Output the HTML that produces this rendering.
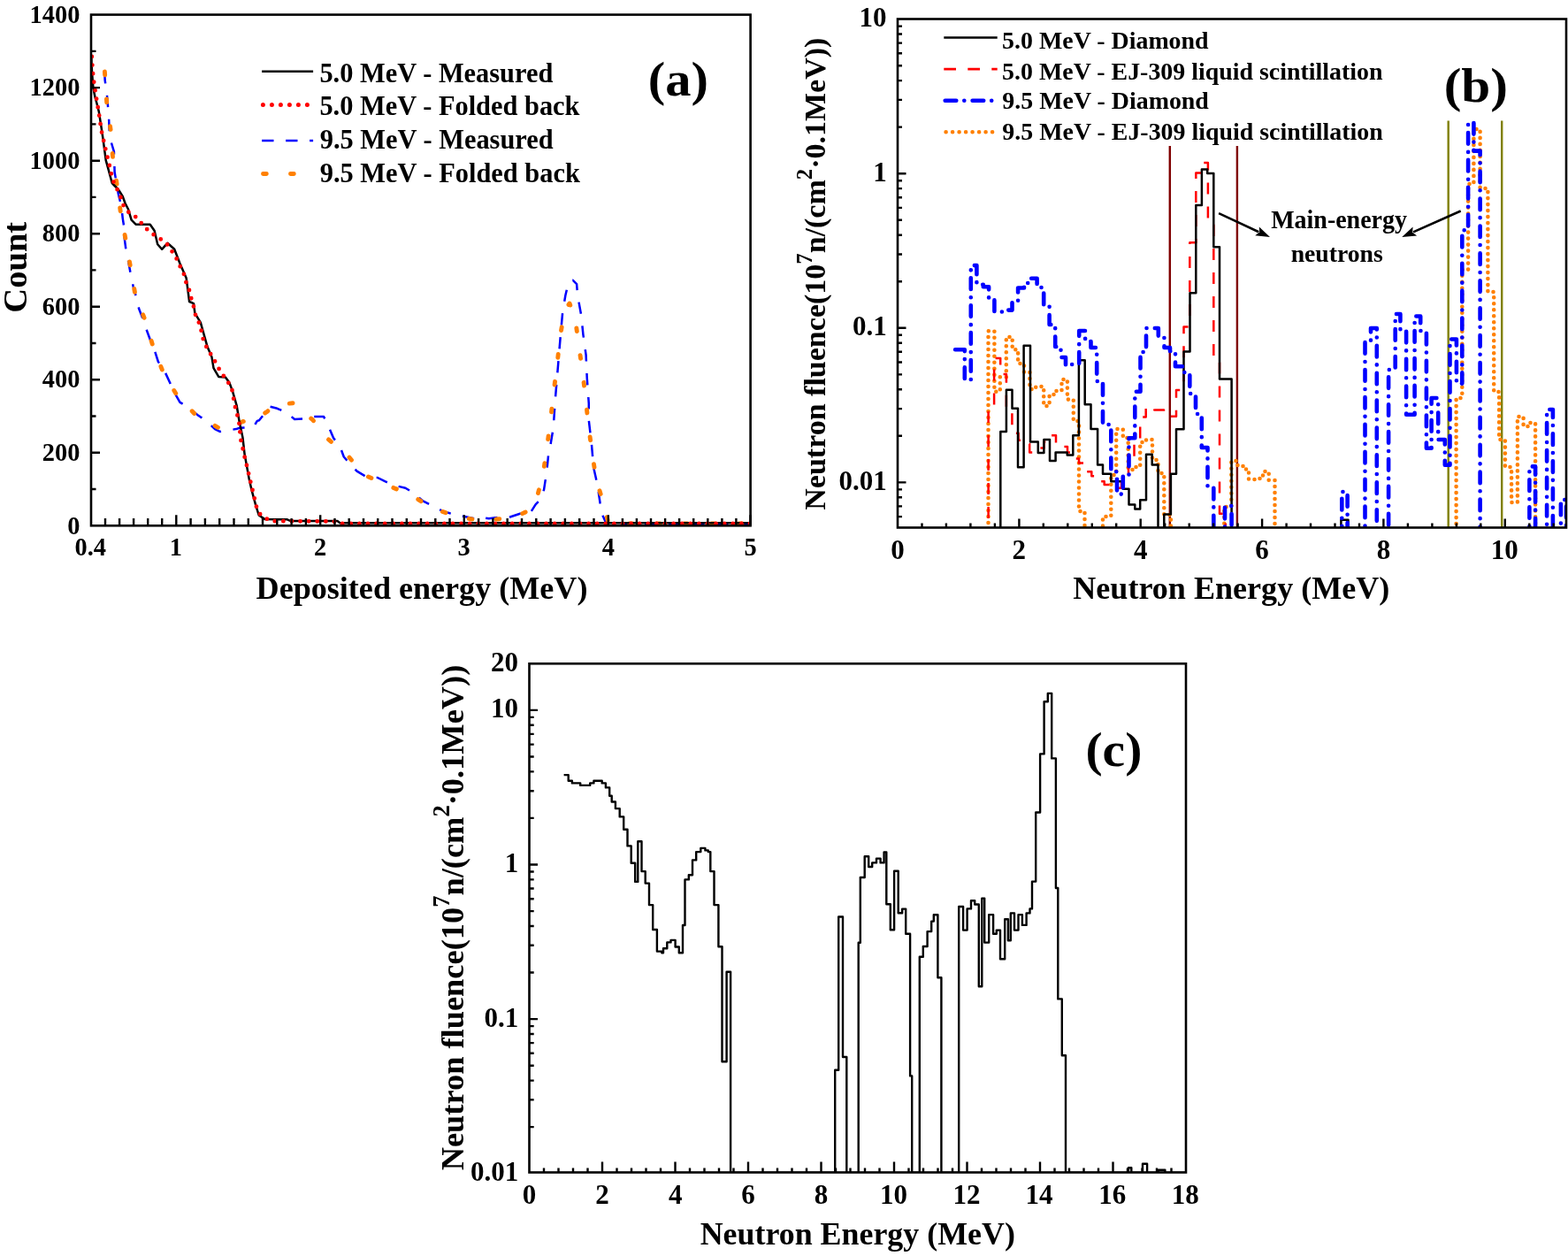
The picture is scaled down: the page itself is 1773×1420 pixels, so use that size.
<!DOCTYPE html><html><head><meta charset="utf-8"><style>html,body{margin:0;padding:0;background:#fff;overflow:hidden}svg{display:block}</style></head><body>
<svg width="1773" height="1420" viewBox="0 0 1773 1420" font-family="Liberation Serif, Times New Roman, serif" font-weight="bold">
<rect width="1773" height="1420" fill="#fff"/>
<defs><clipPath id="cb"><rect x="1015.0" y="21.5" width="756.0" height="575.0"/></clipPath><clipPath id="cc"><rect x="598.5" y="750.3" width="742.5" height="575.2"/></clipPath><clipPath id="ca"><rect x="103.0" y="16.6" width="745.6" height="577.6999999999999"/></clipPath></defs>
<path d="M118.4 81.0L118.6 90.0L121.0 108.0L123.0 132.0L123.8 150.0L124.9 158.0L128.9 171.3L129.6 194.5L133.8 219.2L137.3 233.2L138.7 246.6L140.8 260.0L140.8 269.9L143.0 286.8L145.1 295.2L147.9 310.7L150.7 324.1L153.5 334.0L157.0 348.7L163.4 365.4L165.5 372.4L169.7 383.7L174.6 395.6L178.9 409.0L184.5 416.1L192.3 433.0L195.1 440.0L203.5 454.8L212.0 459.7L223.2 468.9L233.1 475.9L243.0 485.1L248.6 487.9L266.9 485.1L271.1 483.7L286.6 483.0L290.8 475.9L293.0 475.2L305.6 459.7L313.4 461.8L324.3 466.7L333.1 474.0L346.3 473.3L352.1 471.1L366.1 471.1L371.2 481.3L377.1 495.3L384.4 504.8L388.8 516.5L395.4 523.9L403.5 532.7L415.9 540.0L426.9 540.0L435.7 544.4L448.9 549.5L458.4 551.7L468.0 557.6L478.2 566.4L491.4 573.0L501.0 578.1L516.4 582.5L525.3 584.0L540.1 587.2L545.4 585.1L552.8 586.2L565.5 584.7L576.0 584.7L588.7 580.5L599.3 580.5L605.6 570.3L611.9 564.0L615.1 553.4L618.3 532.3L620.4 511.2L622.5 502.7L625.7 483.7L627.8 452.1L629.9 426.7L632.0 401.4L634.1 376.0L636.2 352.8L639.4 333.8L642.6 320.1L647.8 316.9L652.1 321.1L653.1 333.8L657.3 357.0L659.4 378.1L662.6 401.4L663.7 426.7L665.8 456.3L665.8 475.3L669.0 502.7L671.1 528.1L675.3 547.1L678.5 568.2L681.6 583.0L685.8 592.6L690.0 592.5L848.0 592.5" fill="none" stroke="#0000ff" stroke-width="2.5" stroke-linejoin="round" stroke-linecap="butt" stroke-dasharray="13.4 13.6" clip-path="url(#ca)"/>
<path d="M118.4 81.0L120.7 116.0L125.1 146.8L127.5 177.6L132.1 207.9L136.3 239.6L142.3 272.0L147.6 302.3L152.8 332.5L163.1 359.3L173.2 392.1L184.5 421.0L199.3 445.6L219.7 467.5L250.0 485.4L275.9 476.2L286.0 476.0L302.3 465.2L310.0 458.0L331.6 455.7L353.6 474.7L371.2 496.7L393.2 515.1L412.2 537.1L438.6 548.8L465.0 559.8L488.5 574.5L519.3 584.7L540.0 588.0L580.0 586.0L600.0 576.0L605.6 568.2L614.0 536.5L618.3 507.0L622.5 475.3L625.7 445.7L629.9 413.0L633.1 382.4L638.3 350.7L644.0 343.0L650.0 357.0L654.2 388.7L658.4 418.3L662.2 450.0L665.4 481.6L669.6 512.2L674.2 542.9L683.3 571.4L688.0 592.0L848.0 592.0" fill="none" stroke="#ff8000" stroke-width="4.9" stroke-linejoin="round" stroke-linecap="round" stroke-dasharray="3.8 27.2" clip-path="url(#ca)"/>
<path d="M103.3 62.0L103.5 72.0L104.2 84.0L105.5 99.9L107.4 109.3L109.5 117.0L111.8 126.1L114.8 145.5L116.5 157.0L119.7 181.1L123.2 193.8L126.8 207.2L129.6 210.0L133.8 214.2L138.7 222.0L141.5 229.7L145.1 236.8L148.6 248.7L153.5 253.7L169.7 253.7L174.6 260.7L178.2 276.2L183.1 281.8L189.4 274.8L197.2 281.8L203.5 298.0L210.6 314.2L214.1 341.0L219.0 343.1L220.4 354.1L226.8 364.6L234.5 392.1L239.4 403.4L241.5 416.1L247.2 425.9L254.9 426.6L259.2 432.3L262.7 441.4L267.6 458.3L270.4 475.2L274.4 494.5L276.6 513.6L281.7 541.5L284.7 554.7L289.1 570.8L292.7 582.5L299.3 586.9L314.0 587.2L324.3 587.2L328.7 589.1L381.5 589.1L384.4 591.3L848.0 591.3" fill="none" stroke="#000" stroke-width="2.5" stroke-linejoin="round" stroke-linecap="butt" clip-path="url(#ca)"/>
<path d="M103.8 64.0L104.5 76.0L105.5 88.0L107.0 98.0L108.5 108.0L110.0 117.0L111.5 126.0L113.0 136.0L114.5 147.0L116.5 156.0L118.6 165.4L123.2 184.6L127.5 203.7L131.7 212.1L136.3 222.7L139.4 231.8L145.1 239.6L152.1 243.8L159.2 251.5L165.5 258.6L172.1 264.2L181.0 269.9L188.0 274.8L194.4 284.0L199.3 291.7L203.5 300.8L208.2 310.4L210.6 319.9L214.4 329.0L216.6 338.9L219.4 348.0L221.4 357.9L226.0 366.8L230.3 385.8L235.2 395.6L241.3 405.1L246.2 414.6L250.3 421.4L257.0 430.8L262.0 438.6L265.5 458.3L268.3 468.9L270.4 478.7L272.2 496.7L274.4 506.3L276.6 516.5L279.5 528.3L281.7 537.8L283.9 547.3L286.1 556.4L288.3 565.7L290.5 575.2L294.9 582.5L305.9 589.1L377.0 589.5L385.0 592.0L848.0 592.0" fill="none" stroke="#ff0000" stroke-width="4.8" stroke-linejoin="round" stroke-linecap="round" stroke-dasharray="0 9.6" clip-path="url(#ca)"/>
<path d="M119.0 594.3L119.0 586.1M135.1 594.3L135.1 586.1M151.1 594.3L151.1 586.1M167.2 594.3L167.2 586.1M183.2 594.3L183.2 586.1M199.3 594.3L199.3 582.3M215.6 594.3L215.6 586.1M231.9 594.3L231.9 586.1M248.2 594.3L248.2 586.1M264.5 594.3L264.5 586.1M280.8 594.3L280.8 586.1M297.0 594.3L297.0 586.1M313.3 594.3L313.3 586.1M329.6 594.3L329.6 586.1M345.9 594.3L345.9 586.1M362.2 594.3L362.2 582.3M378.5 594.3L378.5 586.1M394.7 594.3L394.7 586.1M411.0 594.3L411.0 586.1M427.2 594.3L427.2 586.1M443.5 594.3L443.5 586.1M459.8 594.3L459.8 586.1M476.0 594.3L476.0 586.1M492.3 594.3L492.3 586.1M508.5 594.3L508.5 586.1M524.8 594.3L524.8 582.3M541.1 594.3L541.1 586.1M557.4 594.3L557.4 586.1M573.7 594.3L573.7 586.1M590.0 594.3L590.0 586.1M606.3 594.3L606.3 586.1M622.6 594.3L622.6 586.1M638.9 594.3L638.9 586.1M655.2 594.3L655.2 586.1M671.5 594.3L671.5 586.1M687.8 594.3L687.8 582.3M703.9 594.3L703.9 586.1M719.9 594.3L719.9 586.1M736.0 594.3L736.0 586.1M752.1 594.3L752.1 586.1M768.1 594.3L768.1 586.1M784.2 594.3L784.2 586.1M800.3 594.3L800.3 586.1M816.4 594.3L816.4 586.1M832.4 594.3L832.4 586.1M848.5 594.3L848.5 582.3M103.0 553.0L108.5 553.0M103.0 511.8L113.0 511.8M103.0 470.5L108.5 470.5M103.0 429.2L113.0 429.2M103.0 388.0L108.5 388.0M103.0 346.7L113.0 346.7M103.0 305.4L108.5 305.4M103.0 264.2L113.0 264.2M103.0 222.9L108.5 222.9M103.0 181.7L113.0 181.7M103.0 140.4L108.5 140.4M103.0 99.1L113.0 99.1M103.0 57.9L108.5 57.9" stroke="#000" stroke-width="2.4" fill="none"/>
<rect x="103.0" y="16.6" width="745.6" height="577.7" fill="none" stroke="#000" stroke-width="2.6"/>
<text transform="translate(76.14 603.50) scale(1 1.050)" font-size="28.40">0</text>
<text transform="translate(47.74 520.97) scale(1 1.050)" font-size="28.40">200</text>
<text transform="translate(47.74 438.44) scale(1 1.050)" font-size="28.40">400</text>
<text transform="translate(47.74 355.91) scale(1 1.050)" font-size="28.40">600</text>
<text transform="translate(47.74 273.39) scale(1 1.050)" font-size="28.40">800</text>
<text transform="translate(33.54 190.86) scale(1 1.050)" font-size="28.40">1000</text>
<text transform="translate(33.54 108.33) scale(1 1.050)" font-size="28.40">1200</text>
<text transform="translate(33.54 25.80) scale(1 1.050)" font-size="28.40">1400</text>
<text transform="translate(84.47 628.00) scale(1 1.050)" font-size="28.40">0.4</text>
<text transform="translate(191.77 628.00) scale(1 1.050)" font-size="28.40">1</text>
<text transform="translate(355.10 628.00) scale(1 1.050)" font-size="28.40">2</text>
<text transform="translate(517.56 628.00) scale(1 1.050)" font-size="28.40">3</text>
<text transform="translate(680.84 628.00) scale(1 1.050)" font-size="28.40">4</text>
<text transform="translate(841.40 628.00) scale(1 1.050)" font-size="28.40">5</text>
<text transform="translate(289.58 676.90) scale(1 1.020)" font-size="36.10">Deposited energy (MeV)</text>
<text transform="translate(29.80 353.73) rotate(-90) scale(0.3860 0.3783)" font-size="100">Count</text>
<path d="M296.1 80.7L354.1 80.7" stroke="#000" stroke-width="2.5" fill="none"/>
<path d="M297.4 118.5L352 118.5" fill="none" stroke="#ff0000" stroke-width="5" stroke-linejoin="round" stroke-linecap="round" stroke-dasharray="0 10"/>
<path d="M296.1 159.0L354.1 159.0" fill="none" stroke="#0000ff" stroke-width="2.5" stroke-linejoin="round" stroke-linecap="butt" stroke-dasharray="13.4 13.6"/>
<path d="M297.5 196.5L355 196.5" fill="none" stroke="#ff8000" stroke-width="4.9" stroke-linejoin="round" stroke-linecap="round" stroke-dasharray="3.8 27.2"/>
<text transform="translate(732.66 107.90) scale(1 0.953)" font-size="58.50">(a)</text>
<text transform="translate(361.38 92.80) scale(1 1.023)" font-size="30.40">5.0 MeV - Measured</text>
<text transform="translate(361.38 129.90) scale(1 1.023)" font-size="30.40">5.0 MeV - Folded back</text>
<text transform="translate(361.69 168.10) scale(1 1.023)" font-size="30.40">9.5 MeV - Measured</text>
<text transform="translate(361.69 205.80) scale(1 1.023)" font-size="30.40">9.5 MeV - Folded back</text>
<path d="M1322.8 165.0L1322.8 596.5M1398.9 165.0L1398.9 596.5" stroke="#800000" stroke-width="2.4" fill="none"/>
<path d="M1637.7 136.5L1637.7 596.5M1698.2 136.5L1698.2 596.5" stroke="#808000" stroke-width="2.4" fill="none"/>
<path d="M1117.5 640.0L1117.5 374.3L1124.4 374.3L1124.4 442.8L1130.8 442.8L1130.8 426.3L1137.8 426.3L1137.8 381.0L1144.7 381.0L1144.7 395.2L1151.1 395.2L1151.1 411.0L1158.0 411.0L1158.0 421.0L1164.4 421.0L1164.4 440.0L1171.2 440.0L1171.2 437.0L1180.2 437.0L1180.2 459.0L1186.6 459.0L1186.6 446.0L1193.0 446.0L1193.0 442.0L1200.5 442.0L1200.5 429.0L1206.9 429.0L1206.9 451.6L1213.8 451.6L1213.8 476.0L1220.0 476.0L1220.0 578.0L1226.5 578.0L1226.5 640.0L1247.0 640.0L1247.0 584.0L1256.3 584.0L1256.3 537.0L1262.2 537.0L1262.2 485.0L1269.8 485.0L1269.8 495.0L1275.7 495.0L1275.7 531.0L1283.0 531.0L1283.0 528.0L1289.2 528.0L1289.2 500.0L1296.0 500.0L1296.0 497.0L1303.0 497.0L1303.0 520.0L1309.5 520.0L1309.5 535.0L1316.3 535.0L1316.3 582.0L1323.9 582.0L1323.9 640.0L1384.3 640.0L1384.3 573.0L1392.3 573.0L1392.3 521.0L1398.9 521.0L1398.9 526.0L1405.5 526.0L1405.5 530.5L1412.0 530.5L1412.0 542.0L1421.0 542.0L1421.0 541.0L1428.0 541.0L1428.0 533.0L1434.7 533.0L1434.7 543.0L1441.5 543.0L1441.5 640.0L1646.6 640.0L1646.6 450.0L1653.3 450.0L1653.3 305.0L1660.1 305.0L1660.1 208.0L1666.4 208.0L1666.4 146.0L1673.6 146.0L1673.6 213.0L1682.4 213.0L1682.4 330.0L1689.2 330.0L1689.2 443.0L1695.1 443.0L1695.1 497.0L1701.9 497.0L1701.9 528.0L1709.1 528.0L1709.1 568.0L1715.9 568.0L1715.9 471.0L1722.6 471.0L1722.6 482.0L1729.4 482.0L1729.4 478.0L1736.1 478.0L1736.1 640.0L1771.0 640.0L1771.0 640.0" fill="none" stroke="#ff8000" stroke-width="4.6" stroke-linejoin="round" stroke-linecap="round" stroke-dasharray="0 7" clip-path="url(#cb)"/>
<path d="M1117.6 640.0L1117.6 464.3L1124.1 464.3L1124.1 405.0L1131.2 405.0L1131.2 423.0L1137.9 423.0L1137.9 464.0L1144.4 464.0L1144.4 489.7L1151.6 489.7L1151.6 497.7L1158.0 497.7L1158.0 502.0L1164.2 502.0L1164.2 511.4L1171.0 511.4L1171.0 506.6L1180.4 506.6L1180.4 499.5L1187.0 499.5L1187.0 492.3L1194.0 492.3L1194.0 503.0L1200.5 503.0L1200.5 505.0L1207.0 505.0L1207.0 511.4L1213.3 511.4L1213.3 518.6L1220.0 518.6L1220.0 523.4L1228.4 523.4L1228.4 533.2L1234.3 533.2L1234.3 538.3L1241.9 538.3L1241.9 544.2L1248.7 544.2L1248.7 548.0L1260.5 548.0L1260.5 551.8L1268.0 551.8L1268.0 545.0L1276.0 545.0L1276.0 524.0L1282.5 524.0L1282.5 499.4L1289.2 499.4L1289.2 471.4L1295.7 471.4L1295.7 460.0L1305.3 460.0L1305.3 463.5L1316.0 463.5L1316.0 470.8L1330.0 470.8L1330.0 441.0L1338.5 441.0L1338.5 369.4L1345.3 369.4L1345.3 274.2L1352.3 274.2L1352.3 195.4L1358.2 195.4L1358.2 184.1L1365.9 184.1L1365.9 254.5L1372.3 254.5L1372.3 410.0L1379.0 410.0L1379.0 580.7L1385.8 580.7L1385.8 640.0" fill="none" stroke="#ff0000" stroke-width="2.5" stroke-linejoin="round" stroke-linecap="butt" stroke-dasharray="13 14" clip-path="url(#cb)"/>
<path d="M1131.3 640.0L1131.3 488.1L1137.9 488.1L1137.9 440.8L1144.5 440.8L1144.5 461.7L1151.0 461.7L1151.0 528.2L1157.6 528.2L1157.6 390.8L1165.0 390.8L1165.0 499.5L1173.8 499.5L1173.8 512.0L1180.4 512.0L1180.4 497.1L1187.0 497.1L1187.0 521.0L1193.6 521.0L1193.6 511.4L1206.7 511.4L1206.7 514.4L1213.3 514.4L1213.3 492.3L1219.9 492.3L1219.9 407.3L1226.7 407.3L1226.7 457.2L1233.5 457.2L1233.5 485.1L1241.1 485.1L1241.1 525.6L1247.0 525.6L1247.0 535.8L1256.3 535.8L1256.3 544.2L1269.8 544.2L1269.8 552.7L1276.5 552.7L1276.5 570.4L1283.3 570.4L1283.3 575.5L1289.2 575.5L1289.2 565.3L1296.0 565.3L1296.0 513.8L1302.7 513.8L1302.7 525.6L1309.5 525.6L1309.5 640.0L1316.3 640.0L1316.3 581.4L1323.9 581.4L1323.9 535.8L1330.0 535.8L1330.0 485.3L1338.5 485.3L1338.5 397.6L1345.5 397.6L1345.5 331.2L1352.3 331.2L1352.3 232.0L1358.9 232.0L1358.9 191.4L1365.2 191.4L1365.2 196.1L1372.3 196.1L1372.3 279.2L1379.0 279.2L1379.0 428.5L1392.6 428.5L1392.6 640.0" fill="none" stroke="#000" stroke-width="2.5" stroke-linejoin="round" stroke-linecap="butt" clip-path="url(#cb)"/>
<path d="M1516.4 640.0L1516.4 587.8L1524.5 587.8L1524.5 640.0" fill="none" stroke="#000" stroke-width="2.5" stroke-linejoin="round" stroke-linecap="butt" clip-path="url(#cb)"/>
<path d="M1080.1 395.2L1090.8 395.2L1090.8 429.5L1097.8 429.5L1097.8 300.1L1104.4 300.1L1104.4 321.7L1111.8 321.7L1111.8 324.2L1118.1 324.2L1118.1 337.0L1124.4 337.0L1124.4 352.1L1131.4 352.1L1131.4 352.5L1137.8 352.5L1137.8 350.6L1144.5 350.6L1144.5 340.0L1151.1 340.0L1151.1 325.5L1158.0 325.5L1158.0 320.0L1163.8 320.0L1163.8 314.7L1172.6 314.7L1172.6 325.0L1180.2 325.0L1180.2 345.0L1186.6 345.0L1186.6 367.0L1193.2 367.0L1193.2 392.0L1199.5 392.0L1199.5 404.0L1205.0 404.0L1205.0 413.0L1210.7 413.0L1210.7 412.0L1220.2 412.0L1220.2 374.0L1227.1 374.0L1227.1 386.0L1233.5 386.0L1233.5 393.0L1240.2 393.0L1240.2 431.0L1247.0 431.0L1247.0 480.0L1256.3 480.0L1256.3 533.2L1263.0 533.2L1263.0 558.6L1269.8 558.6L1269.8 536.6L1276.5 536.6L1276.5 495.2L1283.3 495.2L1283.3 442.8L1289.5 442.8L1289.5 398.0L1296.0 398.0L1296.0 371.0L1309.8 371.0L1309.8 382.0L1316.5 382.0L1316.5 393.0L1323.0 393.0L1323.0 397.0L1329.0 397.0L1329.0 414.3L1339.3 414.3L1339.3 422.0L1345.3 422.0L1345.3 445.0L1352.0 445.0L1352.0 468.0L1358.8 468.0L1358.8 506.0L1365.5 506.0L1365.5 550.0L1372.3 550.0L1372.3 640.0L1385.0 640.0L1385.0 572.0L1392.6 572.0L1392.6 640.0L1517.3 640.0L1517.3 556.0L1523.6 556.0L1523.6 640.0L1543.5 640.0L1543.5 385.0L1550.0 385.0L1550.0 371.0L1556.8 371.0L1556.8 640.0L1570.1 640.0L1570.1 418.0L1577.7 418.0L1577.7 355.0L1583.4 355.0L1583.4 373.7L1590.1 373.7L1590.1 468.7L1599.6 468.7L1599.6 357.5L1606.2 357.5L1606.2 374.0L1612.9 374.0L1612.9 506.7L1618.6 506.7L1618.6 450.0L1626.2 450.0L1626.2 497.0L1633.8 497.0L1633.8 525.7L1639.5 525.7L1639.5 383.5L1646.9 383.5L1646.9 433.6L1653.3 433.6L1653.3 260.2L1660.1 260.2L1660.1 138.5L1666.4 138.5L1666.4 170.6L1673.6 170.6L1673.6 640.0L1729.4 640.0L1729.4 527.4L1736.1 527.4L1736.1 640.0L1749.1 640.0L1749.1 463.0L1755.9 463.0L1755.9 640.0L1764.9 640.0L1764.9 565.0L1771.0 565.0L1771.0 640.0" fill="none" stroke="#0000ff" stroke-width="4.6" stroke-linejoin="round" stroke-linecap="round" stroke-dasharray="12.6 9 0.01 9.3" clip-path="url(#cb)"/>
<path d="M1042.5 596.5L1042.5 591.5M1069.9 596.5L1069.9 591.5M1097.4 596.5L1097.4 591.5M1124.9 596.5L1124.9 591.5M1152.4 596.5L1152.4 586.5M1179.8 596.5L1179.8 591.5M1207.3 596.5L1207.3 591.5M1234.8 596.5L1234.8 591.5M1262.2 596.5L1262.2 591.5M1289.7 596.5L1289.7 586.5M1317.2 596.5L1317.2 591.5M1344.7 596.5L1344.7 591.5M1372.1 596.5L1372.1 591.5M1399.6 596.5L1399.6 591.5M1427.1 596.5L1427.1 586.5M1454.6 596.5L1454.6 591.5M1482.0 596.5L1482.0 591.5M1509.5 596.5L1509.5 591.5M1537.0 596.5L1537.0 591.5M1564.4 596.5L1564.4 586.5M1591.9 596.5L1591.9 591.5M1619.4 596.5L1619.4 591.5M1646.9 596.5L1646.9 591.5M1674.3 596.5L1674.3 591.5M1701.8 596.5L1701.8 586.5M1729.3 596.5L1729.3 591.5M1756.7 596.5L1756.7 591.5M1015.0 584.1L1020.0 584.1M1015.0 572.4L1020.0 572.4M1015.0 562.3L1020.0 562.3M1015.0 553.4L1020.0 553.4M1015.0 545.4L1024.5 545.4M1015.0 492.8L1020.0 492.8M1015.0 462.1L1020.0 462.1M1015.0 440.3L1020.0 440.3M1015.0 423.4L1020.0 423.4M1015.0 409.5L1020.0 409.5M1015.0 397.8L1020.0 397.8M1015.0 387.7L1020.0 387.7M1015.0 378.8L1020.0 378.8M1015.0 370.8L1024.5 370.8M1015.0 318.2L1020.0 318.2M1015.0 287.5L1020.0 287.5M1015.0 265.7L1020.0 265.7M1015.0 248.8L1020.0 248.8M1015.0 234.9L1020.0 234.9M1015.0 223.2L1020.0 223.2M1015.0 213.1L1020.0 213.1M1015.0 204.2L1020.0 204.2M1015.0 196.2L1024.5 196.2M1015.0 143.6L1020.0 143.6M1015.0 112.9L1020.0 112.9M1015.0 91.1L1020.0 91.1M1015.0 74.2L1020.0 74.2M1015.0 60.3L1020.0 60.3M1015.0 48.6L1020.0 48.6M1015.0 38.5L1020.0 38.5M1015.0 29.6L1020.0 29.6" stroke="#000" stroke-width="2.4" fill="none"/>
<rect x="1015.0" y="21.5" width="756.0" height="575.0" fill="none" stroke="#000" stroke-width="2.6"/>
<text transform="translate(971.44 30.00) scale(1 1.020)" font-size="31.00">10</text>
<text transform="translate(987.25 204.60) scale(1 1.020)" font-size="31.00">1</text>
<text transform="translate(964.00 379.20) scale(1 1.020)" font-size="31.00">0.1</text>
<text transform="translate(948.50 553.80) scale(1 1.020)" font-size="31.00">0.01</text>
<text transform="translate(1007.25 632.00) scale(1 1.020)" font-size="31.00">0</text>
<text transform="translate(1144.61 632.00) scale(1 1.020)" font-size="31.00">2</text>
<text transform="translate(1282.12 632.00) scale(1 1.020)" font-size="31.00">4</text>
<text transform="translate(1419.33 632.00) scale(1 1.020)" font-size="31.00">6</text>
<text transform="translate(1556.69 632.00) scale(1 1.020)" font-size="31.00">8</text>
<text transform="translate(1685.68 632.00) scale(1 1.020)" font-size="31.00">10</text>
<text transform="translate(1213.28 676.50) scale(1 0.970)" font-size="36.10">Neutron Energy (MeV)</text>
<text transform="translate(933.30 576.68) rotate(-90) scale(0.3400 0.3400)" font-size="100">Neutron fluence(10<tspan font-size="73" dy="-45">7</tspan><tspan dy="45">n/(cm</tspan><tspan font-size="73" dy="-45">2</tspan><tspan dy="45">·0.1MeV))</tspan></text>
<text transform="translate(1632.63 115.10) scale(1 0.938)" font-size="59.20">(b)</text>
<path d="M1067.3 42.5L1127.7 42.5" stroke="#000" stroke-width="2.7" fill="none"/>
<path d="M1067.3 78.2L1127.7 78.2" fill="none" stroke="#ff0000" stroke-width="2.7" stroke-linejoin="round" stroke-linecap="butt" stroke-dasharray="13.7 13.3"/>
<path d="M1068.7 113.8L1127 113.8" fill="none" stroke="#0000ff" stroke-width="4.6" stroke-linejoin="round" stroke-linecap="round" stroke-dasharray="12.6 9 0.01 9.3"/>
<path d="M1069.6 149.3L1124 149.3" fill="none" stroke="#ff8000" stroke-width="4.6" stroke-linejoin="round" stroke-linecap="round" stroke-dasharray="0 7.5"/>
<text transform="translate(1437.14 258.00) scale(1 1.020)" font-size="28.00">Main-energy</text>
<text transform="translate(1133.08 54.60) scale(1 1.015)" font-size="27.90">5.0 MeV - Diamond</text>
<text transform="translate(1133.08 89.70) scale(1 1.015)" font-size="27.90">5.0 MeV - EJ-309 liquid scintillation</text>
<text transform="translate(1133.36 122.50) scale(1 1.015)" font-size="27.90">9.5 MeV - Diamond</text>
<text transform="translate(1133.36 158.30) scale(1 1.015)" font-size="27.90">9.5 MeV - EJ-309 liquid scintillation</text>
<text transform="translate(1459.67 295.70) scale(1 1.020)" font-size="27.70">neutrons</text>
<path d="M1378.1 241.1L1423.3 262.2" stroke="#000" stroke-width="2.6" fill="none"/>
<path d="M1436.0 268.1L1419.2 266.3L1424.2 262.6L1423.8 256.4Z" fill="#000"/>
<path d="M1651.7 238.5L1598.0 262.4" stroke="#000" stroke-width="2.6" fill="none"/>
<path d="M1585.2 268.1L1597.6 256.6L1597.1 262.8L1602.1 266.6Z" fill="#000"/>
<path d="M637.6 876.1L642.7 876.1L642.7 882.8L646.9 882.8L646.9 885.4L656.2 885.4L656.2 887.9L667.2 887.9L667.2 885.4L671.4 885.4L671.4 882.8L680.7 882.8L680.7 885.4L684.9 885.4L684.9 890.4L689.2 890.4L689.2 899.7L691.7 899.7L691.7 906.5L695.9 906.5L695.9 914.1L700.7 914.1L700.7 923.4L705.2 923.4L705.2 937.8L709.5 937.8L709.5 956.4L713.7 956.4L713.7 975.8L718.2 975.8L718.2 996.9L721.3 996.9L721.3 951.3L725.5 951.3L725.5 985.1L729.7 985.1L729.7 998.6L734.0 998.6L734.0 1023.1L738.2 1023.1L738.2 1051.0L742.9 1051.0L742.9 1075.6L748.3 1075.6L748.3 1077.2L750.0 1077.2L750.0 1072.2L754.3 1072.2L754.3 1065.4L758.5 1065.4L758.5 1062.9L763.6 1062.9L763.6 1070.5L767.8 1070.5L767.8 1077.2L772.0 1077.2L772.0 1046.0L774.5 1046.0L774.5 994.4L778.8 994.4L778.8 989.3L783.0 989.3L783.0 972.4L787.2 972.4L787.2 963.1L792.3 963.1L792.3 958.9L797.4 958.9L797.4 961.4L800.8 961.4L800.8 963.1L803.3 963.1L803.3 985.1L807.5 985.1L807.5 1023.1L812.4 1023.1L812.4 1070.2L816.5 1070.2L816.5 1200.2L821.6 1200.2L821.6 1098.8L826.1 1098.8L826.1 1326.0L944.2 1326.0L944.2 1209.7L948.2 1209.7L948.2 1036.5L953.0 1036.5L953.0 1195.0L957.3 1195.0L957.3 1326.0L970.7 1326.0L970.7 1065.7L972.8 1065.7L972.8 992.0L977.7 992.0L977.7 968.2L982.2 968.2L982.2 980.0L986.2 980.0L986.2 975.4L991.0 975.4L991.0 970.6L995.6 970.6L995.6 975.4L999.6 975.4L999.6 963.4L1002.3 963.4L1002.3 1022.3L1006.8 1022.3L1006.8 1051.2L1011.1 1051.2L1011.1 984.8L1015.7 984.8L1015.7 1032.2L1020.2 1032.2L1020.2 1027.6L1024.2 1027.6L1024.2 1055.8L1029.1 1055.8L1029.1 1216.4L1031.2 1216.4L1031.2 1326.0L1039.8 1326.0L1039.8 1081.7L1043.8 1081.7L1043.8 1070.0L1048.6 1070.0L1048.6 1053.1L1053.2 1053.1L1053.2 1041.6L1055.8 1041.6L1055.8 1034.3L1060.4 1034.3L1060.4 1105.3L1064.4 1105.3L1064.4 1326.0L1084.2 1326.0L1084.2 1025.0L1089.1 1025.0L1089.1 1051.6L1093.6 1051.6L1093.6 1027.4L1098.0 1027.4L1098.0 1018.3L1102.2 1018.3L1102.2 1022.5L1106.8 1022.5L1106.8 1115.2L1110.3 1115.2L1110.3 1015.6L1113.2 1015.6L1113.2 1065.6L1118.2 1065.6L1118.2 1034.1L1123.1 1034.1L1123.1 1055.8L1126.8 1055.8L1126.8 1051.6L1131.0 1051.6L1131.0 1084.3L1136.2 1084.3L1136.2 1039.3L1139.9 1039.3L1139.9 1063.2L1142.8 1063.2L1142.8 1032.4L1147.0 1032.4L1147.0 1051.6L1151.5 1051.6L1151.5 1034.1L1155.9 1034.1L1155.9 1045.9L1160.6 1045.9L1160.6 1032.4L1164.5 1032.4L1164.5 1027.4L1167.0 1027.4L1167.0 996.6L1171.2 996.6L1171.2 918.5L1176.1 918.5L1176.1 852.4L1180.6 852.4L1180.6 793.3L1184.8 793.3L1184.8 783.9L1189.2 783.9L1189.2 857.4L1193.9 857.4L1193.9 1004.0L1196.3 1004.0L1196.3 1129.4L1200.8 1129.4L1200.8 1193.2L1205.0 1193.2L1205.0 1326.0L1276.0 1326.0L1276.0 1320.2L1279.3 1320.2L1279.3 1326.0L1292.0 1326.0L1292.0 1315.7L1297.1 1315.7L1297.1 1326.0L1309.8 1326.0L1309.8 1322.8L1317.4 1322.8L1317.4 1326.0L1340.0 1326.0L1340.0 1345.0" fill="none" stroke="#000" stroke-width="2.4" stroke-linejoin="round" stroke-linecap="butt" clip-path="url(#cc)"/>
<path d="M615.0 1325.5L615.0 1320.5M631.5 1325.5L631.5 1320.5M648.0 1325.5L648.0 1320.5M664.5 1325.5L664.5 1320.5M681.0 1325.5L681.0 1313.5M697.5 1325.5L697.5 1320.5M714.0 1325.5L714.0 1320.5M730.5 1325.5L730.5 1320.5M747.0 1325.5L747.0 1320.5M763.5 1325.5L763.5 1313.5M780.0 1325.5L780.0 1320.5M796.5 1325.5L796.5 1320.5M813.0 1325.5L813.0 1320.5M829.5 1325.5L829.5 1320.5M846.0 1325.5L846.0 1313.5M862.5 1325.5L862.5 1320.5M879.0 1325.5L879.0 1320.5M895.5 1325.5L895.5 1320.5M912.0 1325.5L912.0 1320.5M928.5 1325.5L928.5 1313.5M945.0 1325.5L945.0 1320.5M961.5 1325.5L961.5 1320.5M978.0 1325.5L978.0 1320.5M994.5 1325.5L994.5 1320.5M1011.0 1325.5L1011.0 1313.5M1027.5 1325.5L1027.5 1320.5M1044.0 1325.5L1044.0 1320.5M1060.5 1325.5L1060.5 1320.5M1077.0 1325.5L1077.0 1320.5M1093.5 1325.5L1093.5 1313.5M1110.0 1325.5L1110.0 1320.5M1126.5 1325.5L1126.5 1320.5M1143.0 1325.5L1143.0 1320.5M1159.5 1325.5L1159.5 1320.5M1176.0 1325.5L1176.0 1313.5M1192.5 1325.5L1192.5 1320.5M1209.0 1325.5L1209.0 1320.5M1225.5 1325.5L1225.5 1320.5M1242.0 1325.5L1242.0 1320.5M1258.5 1325.5L1258.5 1313.5M1275.0 1325.5L1275.0 1320.5M1291.5 1325.5L1291.5 1320.5M1308.0 1325.5L1308.0 1320.5M1324.5 1325.5L1324.5 1320.5M598.5 1274.1L603.7 1274.1M598.5 1243.4L603.7 1243.4M598.5 1221.6L603.7 1221.6M598.5 1204.7L603.7 1204.7M598.5 1190.8L603.7 1190.8M598.5 1179.1L603.7 1179.1M598.5 1169.0L603.7 1169.0M598.5 1160.1L603.7 1160.1M598.5 1152.1L608.0 1152.1M598.5 1099.5L603.7 1099.5M598.5 1068.8L603.7 1068.8M598.5 1047.0L603.7 1047.0M598.5 1030.1L603.7 1030.1M598.5 1016.2L603.7 1016.2M598.5 1004.5L603.7 1004.5M598.5 994.4L603.7 994.4M598.5 985.5L603.7 985.5M598.5 977.5L608.0 977.5M598.5 924.9L603.7 924.9M598.5 894.2L603.7 894.2M598.5 872.4L603.7 872.4M598.5 855.5L603.7 855.5M598.5 841.6L603.7 841.6M598.5 829.9L603.7 829.9M598.5 819.8L603.7 819.8M598.5 810.9L603.7 810.9M598.5 802.9L608.0 802.9" stroke="#000" stroke-width="2.4" fill="none"/>
<rect x="598.5" y="750.3" width="742.5" height="575.2" fill="none" stroke="#000" stroke-width="2.6"/>
<text transform="translate(555.04 758.74) scale(1 1.000)" font-size="31.00">20</text>
<text transform="translate(555.04 811.30) scale(1 1.000)" font-size="31.00">10</text>
<text transform="translate(570.85 985.90) scale(1 1.000)" font-size="31.00">1</text>
<text transform="translate(547.60 1160.50) scale(1 1.000)" font-size="31.00">0.1</text>
<text transform="translate(532.10 1335.10) scale(1 1.000)" font-size="31.00">0.01</text>
<text transform="translate(590.75 1361.10) scale(1 1.000)" font-size="31.00">0</text>
<text transform="translate(673.25 1361.10) scale(1 1.000)" font-size="31.00">2</text>
<text transform="translate(755.90 1361.10) scale(1 1.000)" font-size="31.00">4</text>
<text transform="translate(838.25 1361.10) scale(1 1.000)" font-size="31.00">6</text>
<text transform="translate(920.75 1361.10) scale(1 1.000)" font-size="31.00">8</text>
<text transform="translate(994.88 1361.10) scale(1 1.000)" font-size="31.00">10</text>
<text transform="translate(1077.38 1361.10) scale(1 1.000)" font-size="31.00">12</text>
<text transform="translate(1159.57 1361.10) scale(1 1.000)" font-size="31.00">14</text>
<text transform="translate(1242.22 1361.10) scale(1 1.000)" font-size="31.00">16</text>
<text transform="translate(1324.72 1361.10) scale(1 1.000)" font-size="31.00">18</text>
<text transform="translate(791.68 1407.20) scale(1 0.980)" font-size="35.90">Neutron Energy (MeV)</text>
<text transform="translate(524.40 1323.33) rotate(-90) scale(0.3640 0.3640)" font-size="100">Neutron fluence(10<tspan font-size="73" dy="-45">7</tspan><tspan dy="45">n/(cm</tspan><tspan font-size="73" dy="-45">2</tspan><tspan dy="45">·0.1MeV))</tspan></text>
<text transform="translate(1227.40 866.10) scale(1 0.968)" font-size="57.60">(c)</text>
</svg></body></html>
